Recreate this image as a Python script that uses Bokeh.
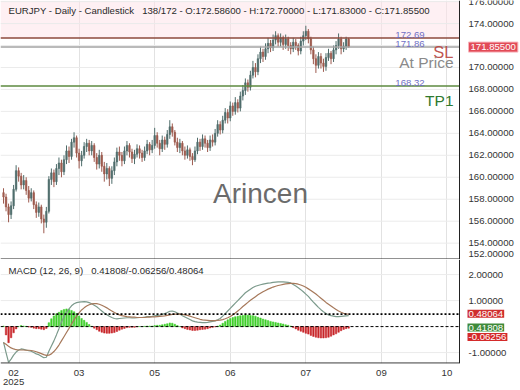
from bokeh.plotting import figure
from bokeh.models import Range1d, FixedTicker, Label, Span, BoxAnnotation, ColumnDataSource
from bokeh.layouts import column
from bokeh.core.properties import value
from bokeh.embed import file_html
from bokeh.resources import INLINE

# ---------------- data ----------------
opens = [158.6, 158.2, 157.3, 156.6, 157.4, 158.9, 160.6, 160.1, 159.3, 159.7,
         158.8, 158.1, 158.6, 157.5, 156.8, 157.3, 156.2, 155.9, 156.9, 159.8,
         160.4, 159.6, 160.8, 161.3, 160.5, 161.6, 162.4, 161.9, 163.2, 163.6,
         162.2, 161.5, 162.0, 162.8, 163.1, 162.4, 162.9, 161.8, 161.2, 162.0,
         161.0, 160.3, 160.8, 159.9, 160.6, 161.4, 162.3, 162.0, 161.5, 162.4,
         162.9, 162.3, 161.7, 162.1, 162.6, 162.2, 161.8, 162.4, 163.0, 162.5,
         162.9, 163.8, 163.1, 162.6, 163.4, 163.0, 163.9, 164.6, 164.1, 163.2,
         162.7, 163.1, 162.4, 162.0, 162.5, 161.9, 161.6, 162.4, 163.2, 162.8,
         163.5, 163.1, 162.7, 163.4, 163.2, 164.0, 164.8, 164.3, 165.2, 165.9,
         165.4, 166.5, 166.0, 166.8, 166.3, 167.4, 167.9, 168.6, 168.2, 169.3,
         170.0, 169.6, 170.8, 171.4, 171.0, 171.7, 172.2, 171.8, 172.5, 172.9,
         172.3, 172.7, 172.1, 172.6, 172.0, 171.7, 172.3, 172.0, 171.5, 172.4,
         172.9, 173.3, 172.6, 171.6, 170.8, 170.2, 171.0, 170.4, 170.1, 170.9,
         171.3, 170.8, 171.6, 172.0, 172.6, 171.7, 171.9, 172.586]
highs = [159.0, 158.5, 157.6, 157.8, 159.3, 161.1, 160.9, 160.4, 160.2, 160.0,
         159.2, 159.0, 158.8, 157.8, 157.7, 157.5, 156.6, 157.3, 160.1, 160.8,
         160.7, 161.2, 161.8, 161.6, 162.0, 162.9, 162.8, 163.5, 164.1, 163.8,
         162.6, 162.4, 163.2, 163.5, 163.4, 163.3, 163.1, 162.2, 162.5, 162.3,
         161.4, 161.3, 161.0, 161.0, 161.8, 162.7, 162.8, 162.3, 162.8, 163.3,
         163.1, 162.6, 162.5, 163.0, 162.9, 162.5, 162.8, 163.4, 163.2, 163.4,
         164.5, 164.1, 163.4, 163.8, 163.7, 164.3, 165.2, 164.9, 164.3, 163.6,
         163.5, 163.3, 162.8, 162.9, 162.7, 162.2, 162.8, 163.6, 163.5, 163.9,
         163.8, 163.4, 163.8, 163.9, 164.4, 165.2, 165.1, 165.6, 166.3, 166.2,
         166.9, 166.8, 167.3, 167.1, 167.8, 168.4, 169.0, 168.9, 169.7, 170.6,
         170.4, 171.2, 171.9, 171.7, 172.2, 172.7, 172.5, 173.0, 173.3, 173.1,
         173.1, 172.9, 173.0, 172.8, 172.3, 172.7, 172.6, 172.2, 172.8, 173.3,
         173.8, 173.5, 172.8, 171.9, 171.2, 171.4, 171.3, 170.8, 171.3, 171.7,
         171.5, 172.0, 172.4, 173.1, 172.8, 172.3, 172.8, 172.70]
lows = [157.6, 156.9, 155.9, 156.2, 157.1, 158.7, 159.6, 158.9, 158.9, 158.4,
        157.7, 157.8, 157.1, 156.3, 156.4, 155.8, 154.9, 155.4, 156.7, 159.3,
        159.1, 159.3, 160.2, 160.0, 160.2, 161.2, 161.3, 161.6, 162.7, 161.8,
        160.8, 161.0, 161.7, 162.3, 162.0, 162.0, 161.4, 160.7, 160.8, 160.5,
        159.6, 159.8, 159.2, 159.4, 160.2, 161.0, 161.5, 161.0, 161.2, 162.0,
        161.8, 161.3, 161.2, 161.8, 161.7, 161.4, 161.5, 162.1, 162.0, 162.2,
        162.6, 162.7, 162.0, 162.3, 162.5, 162.7, 163.5, 163.7, 162.9, 162.3,
        162.2, 162.0, 161.6, 161.7, 161.5, 161.1, 161.4, 162.1, 162.4, 162.5,
        162.7, 162.3, 162.4, 162.8, 162.9, 163.7, 163.9, 164.0, 164.9, 164.9,
        165.1, 165.6, 165.7, 165.9, 166.0, 167.0, 167.5, 167.8, 167.9, 169.0,
        169.1, 169.3, 170.4, 170.5, 170.7, 171.3, 171.4, 171.5, 172.1, 171.9,
        171.9, 171.6, 171.7, 171.5, 171.2, 171.4, 171.6, 171.1, 171.2, 172.0,
        172.5, 172.2, 171.2, 170.3, 169.5, 169.9, 169.9, 169.6, 169.7, 170.6,
        170.3, 170.5, 171.2, 171.7, 171.2, 171.4, 171.6, 171.83]
closes = [158.2, 157.3, 156.6, 157.4, 158.9, 160.6, 160.1, 159.3, 159.7, 158.8,
          158.1, 158.6, 157.5, 156.8, 157.3, 156.2, 155.9, 156.9, 159.8, 160.4,
          159.6, 160.8, 161.3, 160.5, 161.6, 162.4, 161.9, 163.2, 163.6, 162.2,
          161.5, 162.0, 162.8, 163.1, 162.4, 162.9, 161.8, 161.2, 162.0, 161.0,
          160.3, 160.8, 159.9, 160.6, 161.4, 162.3, 162.0, 161.5, 162.4, 162.9,
          162.3, 161.7, 162.1, 162.6, 162.2, 161.8, 162.4, 163.0, 162.5, 162.9,
          163.8, 163.1, 162.6, 163.4, 163.0, 163.9, 164.6, 164.1, 163.2, 162.7,
          163.1, 162.4, 162.0, 162.5, 161.9, 161.6, 162.4, 163.2, 162.8, 163.5,
          163.1, 162.7, 163.4, 163.2, 164.0, 164.8, 164.3, 165.2, 165.9, 165.4,
          166.5, 166.0, 166.8, 166.3, 167.4, 167.9, 168.6, 168.2, 169.3, 170.0,
          169.6, 170.8, 171.4, 171.0, 171.7, 172.2, 171.8, 172.5, 172.9, 172.3,
          172.7, 172.1, 172.6, 172.0, 171.7, 172.3, 172.0, 171.5, 172.4, 172.9,
          173.3, 172.6, 171.6, 170.8, 170.2, 171.0, 170.4, 170.1, 170.9, 171.3,
          170.8, 171.6, 172.0, 172.6, 171.7, 171.9, 172.59, 171.855]

macd_line = [-0.60, -1.00, -1.38, -1.25, -1.10, -0.98, -0.90, -0.86, -0.88, -0.90,
             -0.93, -0.95, -1.00, -1.05, -1.08, -1.14, -1.20, -1.18, -0.95, -0.75,
             -0.55, -0.32, -0.08, 0.18, 0.38, 0.55, 0.68, 0.80, 0.88, 0.92,
             0.94, 0.95, 0.96, 0.95, 0.92, 0.88, 0.82, 0.76, 0.68, 0.60,
             0.52, 0.46, 0.40, 0.35, 0.31, 0.30, 0.31, 0.32, 0.33, 0.34,
             0.34, 0.33, 0.33, 0.34, 0.35, 0.35, 0.36, 0.38, 0.38, 0.39,
             0.41, 0.43, 0.44, 0.47, 0.50, 0.54, 0.59, 0.60, 0.57, 0.52,
             0.48, 0.42, 0.37, 0.32, 0.27, 0.22, 0.19, 0.17, 0.16, 0.15,
             0.15, 0.16, 0.18, 0.20, 0.22, 0.26, 0.31, 0.40, 0.50, 0.60,
             0.70, 0.80, 0.90, 1.00, 1.10, 1.20, 1.30, 1.37, 1.44, 1.50,
             1.55, 1.58, 1.61, 1.63, 1.65, 1.67, 1.68, 1.70, 1.71, 1.72,
             1.72, 1.72, 1.71, 1.70, 1.68, 1.62, 1.56, 1.49, 1.42, 1.34,
             1.25, 1.16, 1.05, 0.94, 0.84, 0.74, 0.65, 0.57, 0.50, 0.45,
             0.42, 0.40, 0.38, 0.38, 0.39, 0.40, 0.41, 0.41808]
signal_line = [-0.62, -0.68, -0.76, -0.82, -0.86, -0.89, -0.90, -0.90, -0.90, -0.91,
               -0.91, -0.92, -0.94, -0.97, -1.00, -1.04, -1.08, -1.11, -1.10, -1.05,
               -0.96, -0.85, -0.71, -0.55, -0.39, -0.23, -0.07, 0.10, 0.26, 0.40,
               0.53, 0.64, 0.72, 0.79, 0.84, 0.87, 0.88, 0.88, 0.86, 0.82,
               0.77, 0.72, 0.66, 0.60, 0.54, 0.49, 0.45, 0.42, 0.40, 0.38,
               0.37, 0.36, 0.36, 0.35, 0.35, 0.35, 0.35, 0.36, 0.36, 0.37,
               0.37, 0.38, 0.39, 0.40, 0.41, 0.43, 0.45, 0.47, 0.48, 0.48,
               0.48, 0.47, 0.45, 0.43, 0.40, 0.37, 0.34, 0.31, 0.28, 0.26,
               0.25, 0.24, 0.23, 0.23, 0.23, 0.24, 0.25, 0.27, 0.30, 0.34,
               0.39, 0.45, 0.52, 0.60, 0.68, 0.77, 0.85, 0.93, 1.01, 1.08,
               1.15, 1.22, 1.28, 1.34, 1.39, 1.44, 1.48, 1.52, 1.55, 1.58,
               1.60, 1.62, 1.64, 1.65, 1.66, 1.66, 1.65, 1.63, 1.60, 1.56,
               1.51, 1.45, 1.39, 1.32, 1.25, 1.17, 1.09, 1.01, 0.93, 0.86,
               0.79, 0.72, 0.66, 0.60, 0.55, 0.51, 0.49, 0.48064]
macd_hist = [0.02, -0.32, -0.62, -0.43, -0.24, -0.09, 0.00, 0.04, 0.02, 0.01,
             -0.02, -0.03, -0.06, -0.08, -0.08, -0.10, -0.12, -0.07, 0.15, 0.30,
             0.41, 0.49, 0.55, 0.62, 0.66, 0.68, 0.66, 0.62, 0.57, 0.50,
             0.41, 0.31, 0.24, 0.16, 0.08, 0.01, -0.06, -0.12, -0.18, -0.22,
             -0.25, -0.26, -0.26, -0.25, -0.23, -0.19, -0.14, -0.10, -0.07, -0.04,
             -0.03, -0.03, -0.03, -0.01, 0.00, 0.00, 0.01, 0.02, 0.02, 0.02,
             0.04, 0.05, 0.05, 0.07, 0.09, 0.11, 0.14, 0.13, 0.09, 0.04,
             0.00, -0.05, -0.08, -0.11, -0.13, -0.15, -0.15, -0.14, -0.12, -0.11,
             -0.10, -0.08, -0.05, -0.03, -0.01, 0.02, 0.06, 0.13, 0.20, 0.26,
             0.31, 0.35, 0.38, 0.40, 0.42, 0.43, 0.45, 0.44, 0.43, 0.42,
             0.40, 0.36, 0.33, 0.29, 0.26, 0.23, 0.20, 0.18, 0.16, 0.14,
             0.12, 0.10, 0.07, 0.05, 0.02, -0.04, -0.09, -0.14, -0.18, -0.22,
             -0.26, -0.29, -0.34, -0.38, -0.41, -0.43, -0.44, -0.44, -0.43, -0.41,
             -0.37, -0.32, -0.28, -0.22, -0.16, -0.11, -0.08, -0.06256]

x_tick_pos = [4, 30, 60, 90, 120, 150, 176]
x_tick_labels = ["02\n2025", "03", "05", "06", "07", "09", "10"]
price_ticks = [154, 156, 158, 160, 162, 164, 166, 168, 170, 172, 174, 176]
macd_ticks = [-1, 1, 2]

symbol, timeframe, chart_type = "EURJPY", "Daily", "Candlestick"
bar_no, bar_total = 138, 172
sl_level, at_price_level, tp1_level = 172.69, 171.86, 168.32
macd_params = (12, 26, 9)

# ---------------- layout helpers (reference pixels -> data) ----------------
W, H = 520, 390
XR0, AX = -1.2, 181.0           # plot area spans ref px 0..459, axis line at 459
XR1 = XR0 + W / 459.0 * (AX - XR0)
PY0, PY1 = 152.51, 176.1        # price frame: ref py 0..259
MY0, MY1 = -1.42, 2.58          # macd frame: ref py 259..369
FONT = "Liberation Sans"
AXC = "#222222"
FS = "9.6px"


def px2x(px):
    return XR0 + px / 459.0 * (AX - XR0)


def py2y(py):
    return PY1 - py / 259.0 * (PY1 - PY0)


def my(py):
    return MY1 - (py - 259.0) / 110.0 * (MY1 - MY0)


xr = Range1d(XR0, XR1)
idx = list(range(len(closes)))
UP, DOWN = "#4f6d6b", "#9d5a4e"
src = ColumnDataSource(dict(
    x=idx, high=highs, low=lows,
    top=[max(o, c) for o, c in zip(opens, closes)],
    bottom=[min(o, c) for o, c in zip(opens, closes)],
    color=[UP if c >= o else DOWN for o, c in zip(opens, closes)],
))


def base_fig(height, yr, with_xaxis):
    f = figure(width=W, height=height, x_range=xr, y_range=yr, toolbar_location=None,
               output_backend="svg", min_border=0, y_axis_location=None,
               x_axis_location="below")
    f.outline_line_color = None
    f.background_fill_color = "white"
    f.border_fill_color = "white"
    f.ygrid.visible = False
    f.xgrid.ticker = FixedTicker(ticks=x_tick_pos[1:])
    f.xgrid.grid_line_color = "#e2e2e2"
    if not with_xaxis:
        f.xaxis.visible = False
    return f


def y_labels(f, ticks, texts):
    f.text(x=[px2x(468)] * len(ticks), y=ticks, text=texts, text_align="left",
           text_baseline="middle", text_font=value(FONT), text_font_size=value(FS),
           text_color="#333333")


def h_grid(f, ticks):
    f.segment(x0=[XR0] * len(ticks), x1=[AX] * len(ticks), y0=ticks, y1=ticks,
              line_color="#ebebeb", line_width=1)


# ---------------- price panel ----------------
p = base_fig(259, Range1d(PY0, PY1), False)
h_grid(p, price_ticks)
p.add_layout(BoxAnnotation(bottom=sl_level, right=AX, fill_color="#fde3ea", fill_alpha=0.55,
                           level="underlay", line_color=None))

p.segment(x0="x", y0="low", x1="x", y1="high", color="color", line_width=1, source=src)
p.vbar(x="x", width=0.6, top="top", bottom="bottom", fill_color="color", line_color="color",
       line_width=0.6, source=src)

lv = [sl_level, at_price_level, tp1_level]
p.segment(x0=[XR0] * 3, x1=[AX] * 3, y0=lv, y1=lv,
          line_color=["#8c4a3c", "#a3a3a3", "#5d8a3f"], line_width=1.5)
for lvl in lv:
    p.add_layout(Label(x=px2x(409.5), y=lvl, text=f"{lvl:.2f}", text_align="center",
                       text_baseline="bottom", text_font=FONT, text_font_size=FS,
                       text_color="#6f6fc4"))

p.add_layout(Label(x=px2x(453), y=py2y(51), text="SL", text_align="right", text_baseline="middle",
                   text_font=FONT, text_font_size="16.5px", text_color="#b8403a", text_alpha=0.9))
p.add_layout(Label(x=px2x(453), y=py2y(62), text="At Price", text_align="right", text_baseline="middle",
                   text_font=FONT, text_font_size="15.5px", text_color="#8a8a8a"))
p.add_layout(Label(x=px2x(453), y=py2y(99.5), text="TP1", text_align="right", text_baseline="middle",
                   text_font=FONT, text_font_size="15.5px", text_color="#2f7a2f"))

p.add_layout(Label(x=px2x(260), y=py2y(193), text="Arincen", text_align="center", text_baseline="middle",
                   text_font=FONT, text_font_size="28px", text_color="#6b6b6b"))

header = (f"{symbol} - {timeframe} - {chart_type}\u00a0\u00a0\u00a0{bar_no}/{bar_total} - "
          f"O:{opens[-1]:.5f} - H:{highs[-1]:.5f} - L:{lows[-1]:.5f} - C:{closes[-1]:.5f}")
p.add_layout(Label(x=px2x(8), y=py2y(10), text=header, text_align="left", text_baseline="middle",
                   text_font=FONT, text_font_size=FS, text_color="#2a2a2a"))

# right price scale
y_labels(p, price_ticks, [f"{t:.5f}" for t in price_ticks])
p.add_layout(Label(x=px2x(468), y=py2y(253), text=f"{152:.5f}", text_align="left",
                   text_baseline="middle", text_font=FONT, text_font_size=FS,
                   text_color="#333333"))
p.add_layout(Span(location=AX, dimension="height", line_color=AXC, line_width=1))
p.segment(x0=[XR0], x1=[AX], y0=[py2y(258.5)], y1=[py2y(258.5)], line_color=AXC, line_width=1)
p.add_layout(Label(x=px2x(468), y=closes[-1], text=f"{closes[-1]:.5f}", text_align="left",
                   text_baseline="middle", text_font=FONT, text_font_size=FS, text_color="white",
                   background_fill_color="#e24b57", border_line_color="#f7b3bb", border_line_width=1,
                   padding=2))

# ---------------- MACD panel ----------------
m = base_fig(131, Range1d(MY0, MY1), True)
xa = m.xaxis[0]
xa.ticker = FixedTicker(ticks=x_tick_pos)
xa.major_label_overrides = dict(zip(x_tick_pos, x_tick_labels))
xa.major_label_text_font = FONT
xa.major_label_text_font_size = FS
xa.major_label_text_color = "#333333"
xa.major_label_text_line_height = 0.9
xa.axis_line_color = None
xa.major_tick_out = 0
xa.major_tick_in = 0
xa.minor_tick_out = 0
xa.minor_tick_in = 0
xa.major_label_standoff = 3

h_grid(m, macd_ticks)
hsrc = ColumnDataSource(dict(x=idx, top=macd_hist,
                             color=["#3fcf2b" if h >= 0 else "#c8262a" for h in macd_hist]))
m.vbar(x="x", width=0.6, top="top", bottom=0, fill_color="color", line_color="color",
       line_width=0.5, source=hsrc)
m.line(idx, macd_line, line_color="#7c9a8c", line_width=1.2)
m.line(idx, signal_line, line_color="#a6785a", line_width=1.2)
m.segment(x0=[XR0], x1=[AX], y0=[signal_line[-1]], y1=[signal_line[-1]], line_color="black",
          line_dash="2 2", line_width=1.8)
m.segment(x0=[XR0], x1=[AX], y0=[0], y1=[0], line_color="black", line_dash="3 2", line_width=1)

mh = (f"MACD ({macd_params[0]}, {macd_params[1]}, {macd_params[2]})\u00a0\u00a0\u00a0"
      f"{macd_line[-1]:.5f}/{macd_hist[-1]:.5f}/{signal_line[-1]:.5f}")
m.add_layout(Label(x=px2x(8), y=my(271), text=mh, text_align="left", text_baseline="middle",
                   text_font=FONT, text_font_size=FS, text_color="#2a2a2a"))

y_labels(m, macd_ticks, [f"{t:.5f}" for t in macd_ticks])
m.add_layout(Span(location=AX, dimension="height", line_color=AXC, line_width=1))
m.segment(x0=[XR0], x1=[AX], y0=[my(368.5)], y1=[my(368.5)], line_color=AXC, line_width=1.2)

for val, ypix, col in ((signal_line[-1], 316.5, "#cf2e2e"), (macd_line[-1], 331, "#3f8a3a"),
                       (macd_hist[-1], 341, "#d42a2a")):
    m.add_layout(Label(x=px2x(467), y=my(ypix), text=f"{val:.5f}", text_align="left",
                       text_baseline="middle", text_font=FONT, text_font_size=FS,
                       text_color="white", background_fill_color=col, padding=1))

layout = column(p, m, spacing=0)
open("out.html", "w").write(file_html(layout, INLINE))
